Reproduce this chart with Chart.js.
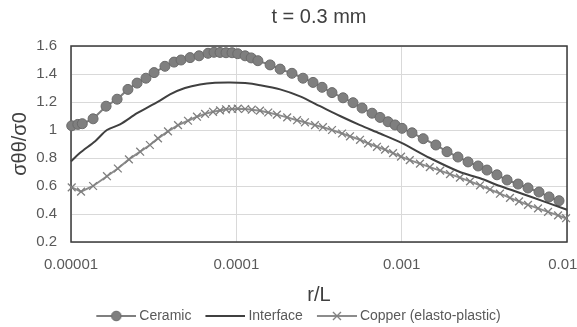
<!DOCTYPE html>
<html>
<head>
<meta charset="utf-8">
<script src="https://cdn.jsdelivr.net/npm/chart.js@4.4.0/dist/chart.umd.min.js"></script>
<style>
html, body { margin: 0; padding: 0; background: #fff; }
</style>
</head>
<body>
<canvas id="myChart" width="577" height="327"></canvas>
<script>
// r/L values and normalised stress for each series
var ceramicR = [1.01e-5, 1.10e-5, 1.17e-5, 1.36e-5, 1.63e-5, 1.90e-5, 2.21e-5, 2.51e-5, 2.84e-5, 3.18e-5,
    3.70e-5, 4.20e-5, 4.63e-5, 5.25e-5, 5.95e-5, 6.74e-5, 7.33e-5, 7.97e-5, 8.66e-5, 9.42e-5,
    1.02e-4, 1.13e-4, 1.23e-4, 1.35e-4, 1.60e-4, 1.84e-4, 2.17e-4, 2.53e-4, 2.91e-4, 3.30e-4,
    3.79e-4, 4.42e-4, 5.08e-4, 5.76e-4, 6.62e-4, 7.40e-4, 8.27e-4, 9.12e-4, 1.005e-3, 1.155e-3,
    1.35e-3, 1.61e-3, 1.88e-3, 2.19e-3, 2.52e-3, 2.90e-3, 3.28e-3, 3.77e-3, 4.34e-3, 5.06e-3,
    5.81e-3, 6.77e-3, 7.79e-3, 8.95e-3];
var ceramic = [1.03, 1.04, 1.045, 1.08, 1.17, 1.22, 1.29, 1.335, 1.37, 1.41,
    1.455, 1.485, 1.50, 1.517, 1.53, 1.548, 1.555, 1.554, 1.552, 1.552,
    1.545, 1.53, 1.515, 1.495, 1.465, 1.435, 1.405, 1.37, 1.34, 1.305,
    1.267, 1.23, 1.195, 1.157, 1.12, 1.09, 1.059, 1.036, 1.012, 0.98,
    0.938, 0.893, 0.845, 0.807, 0.772, 0.743, 0.714, 0.68, 0.643, 0.614,
    0.586, 0.557, 0.522, 0.495];

var interfaceR = [1e-5, 1.13e-5, 1.40e-5, 1.65e-5, 1.98e-5, 2.51e-5, 3.00e-5, 3.45e-5, 3.97e-5, 4.89e-5,
    6.03e-5, 7.43e-5, 9.16e-5, 1.13e-4, 1.39e-4, 1.84e-4, 2.43e-4, 3.21e-4, 4.24e-4, 5.60e-4,
    7.40e-4, 9.91e-4, 1.48e-3, 2.25e-3, 2.98e-3, 3.93e-3, 5.98e-3, 1e-2];
var interfaceS = [0.775, 0.835, 0.92, 1.0, 1.04, 1.12, 1.17, 1.21, 1.255, 1.30,
    1.325, 1.337, 1.34, 1.335, 1.32, 1.29, 1.24, 1.17, 1.10, 1.035,
    0.975, 0.91, 0.80, 0.70, 0.655, 0.60, 0.525, 0.43];

var copperR = [1.01e-5, 1.15e-5, 1.36e-5, 1.65e-5, 1.92e-5, 2.24e-5, 2.62e-5, 3.00e-5, 3.36e-5, 3.86e-5,
    4.44e-5, 5.10e-5, 5.78e-5, 6.47e-5, 7.23e-5, 7.97e-5, 8.66e-5, 9.42e-5, 1.02e-4, 1.13e-4,
    1.24e-4, 1.39e-4, 1.56e-4, 1.76e-4, 2.03e-4, 2.33e-4, 2.60e-4, 2.99e-4, 3.34e-4, 3.79e-4,
    4.36e-4, 4.87e-4, 5.60e-4, 6.26e-4, 7.09e-4, 7.93e-4, 8.87e-4, 9.91e-4, 1.12e-3, 1.29e-3,
    1.48e-3, 1.71e-3, 1.96e-3, 2.25e-3, 2.59e-3, 2.98e-3, 3.42e-3, 3.93e-3, 4.52e-3, 5.13e-3,
    5.81e-3, 6.68e-3, 7.68e-3, 8.83e-3, 9.87e-3];
var copper = [0.59, 0.56, 0.60, 0.67, 0.725, 0.79, 0.845, 0.893, 0.94, 0.99,
    1.035, 1.066, 1.095, 1.115, 1.13, 1.14, 1.148, 1.15, 1.152, 1.15,
    1.145, 1.138, 1.125, 1.11, 1.09, 1.07, 1.055, 1.035, 1.02, 1.0,
    0.975, 0.955, 0.93, 0.905, 0.88, 0.86, 0.835, 0.81, 0.785, 0.76,
    0.735, 0.71, 0.685, 0.66, 0.633, 0.605, 0.575, 0.545, 0.515, 0.49,
    0.465, 0.44, 0.415, 0.39, 0.37];

var xTicks = [1e-5, 1e-4, 1e-3, 1e-2];
var xTickLabels = ["0.00001", "0.0001", "0.001", "0.01"];
var seriesNames = ["Ceramic", "Interface", "Copper (elasto-plastic)"];

function pts(xs, ys) {
    return xs.map(function (x, i) { return { x: x, y: ys[i] }; });
}

// line+marker pictures for the legend (blank strip on the left gives the gap between items)
function legendIcon(color, marker) {
    var c = document.createElement('canvas');
    c.width = 54; c.height = 14;
    var g = c.getContext('2d');
    g.strokeStyle = color; g.lineWidth = 2;
    g.beginPath(); g.moveTo(14, 7); g.lineTo(54, 7); g.stroke();
    if (marker == 'circle') {
        g.fillStyle = '#7f7f7f'; g.strokeStyle = '#6b6b6b'; g.lineWidth = 1;
        g.beginPath(); g.arc(34, 7, 4.8, 0, Math.PI * 2); g.fill(); g.stroke();
    } else if (marker == 'cross') {
        g.strokeStyle = '#7f7f7f'; g.lineWidth = 1.3;
        g.beginPath(); g.moveTo(30, 3); g.lineTo(38, 11); g.moveTo(38, 3); g.lineTo(30, 11); g.stroke();
    }
    return c;
}
var icons = [legendIcon('#7f7f7f', 'circle'), legendIcon('#404040', null), legendIcon('#8c8c8c', 'cross')];

var frame = {
    id: 'frame',
    afterLayout: function (chart) {
        // legend sits a bit right of the canvas centre in the original
        chart.legend.left += 10;
        chart.legend.right += 10;
    },
    beforeDatasetsDraw: function (chart) {
        var a = chart.chartArea, ctx = chart.ctx;
        ctx.save();
        ctx.strokeStyle = '#3a3a3a';
        ctx.lineWidth = 1.5;
        ctx.strokeRect(a.left, a.top, a.right - a.left, a.bottom - a.top);
        ctx.restore();
    }
};

var canvas = document.getElementById('myChart').getContext("2d");
window.chart = new Chart(canvas, {
    type: "scatter",
    data: {
        datasets: [{
            label: seriesNames[0],
            data: pts(ceramicR, ceramic),
            showLine: true,
            borderColor: "#7f7f7f",
            borderWidth: 2,
            pointStyle: 'circle',
            pointRadius: 5,
            pointBackgroundColor: "#7f7f7f",
            pointBorderColor: "#6b6b6b",
            pointBorderWidth: 1,
            clip: false,
            order: 3
        }, {
            label: seriesNames[1],
            data: pts(interfaceR, interfaceS),
            showLine: true,
            borderColor: "#404040",
            borderWidth: 2,
            pointRadius: 0,
            tension: 0.3,
            clip: false,
            order: 2
        }, {
            label: seriesNames[2],
            data: pts(copperR, copper),
            showLine: true,
            borderColor: "#8c8c8c",
            borderWidth: 2,
            pointStyle: 'crossRot',
            pointRadius: 5.5,
            pointBorderColor: "#7f7f7f",
            pointBorderWidth: 1.3,
            clip: false,
            order: 1
        }]
    },
    options: {
        responsive: false,
        animation: false,
        layout: { padding: { left: 0, right: 10, top: 0, bottom: -6 } },
        plugins: {
            title: {
                display: true,
                fullSize: false,
                text: "t = 0.3 mm",
                color: "#404040",
                font: { family: "Liberation Sans", size: 20, weight: 'normal' },
                padding: { top: 5, bottom: 17 }
            },
            tooltip: { enabled: false },
            legend: {
                position: 'bottom',
                labels: {
                    usePointStyle: true,
                    pointStyleWidth: 46,
                    boxHeight: 14,
                    padding: 4,
                    color: "#595959",
                    font: { family: "Liberation Sans", size: 14 },
                    generateLabels: function (chart) {
                        return seriesNames.map(function (n, i) {
                            return { text: n, pointStyle: icons[i], datasetIndex: i, lineWidth: 0, fontColor: "#595959" };
                        });
                    }
                }
            }
        },
        scales: {
            x: {
                type: 'logarithmic',
                min: 1e-5,
                max: 1e-2,
                afterBuildTicks: function (axis) {
                    axis.ticks = xTicks.map(function (v) { return { value: v }; });
                },
                afterFit: function (axis) {
                    axis.height = 63;
                    axis.paddingRight = 0;
                },
                ticks: {
                    color: "#595959",
                    padding: 14,
                    autoSkip: false,
                    maxRotation: 0,
                    font: { family: "Liberation Sans", size: 15 },
                    callback: function (v) {
                        var i = xTicks.indexOf(v);
                        // last label is nudged left so it stays inside the canvas
                        return i == xTicks.length - 1 ? xTickLabels[i] + "\u2007" : xTickLabels[i];
                    }
                },
                grid: { color: "#d9d9d9", drawTicks: false },
                border: { display: false },
                title: {
                    display: true,
                    text: "r/L",
                    color: "#404040",
                    font: { family: "Liberation Sans", size: 20 },
                    padding: { top: 0, bottom: -2 }
                }
            },
            y: {
                min: 0.2,
                max: 1.6,
                afterFit: function (axis) {
                    axis.width = 71;
                },
                ticks: {
                    stepSize: 0.2,
                    color: "#595959",
                    padding: 14,
                    font: { family: "Liberation Sans", size: 15 },
                    callback: function (v) { return String(+v.toFixed(1)); }
                },
                grid: { color: "#d9d9d9", drawTicks: false },
                border: { display: false },
                title: {
                    display: true,
                    text: "σθθ/σ0",
                    color: "#404040",
                    font: { family: "Liberation Sans", size: 20 },
                    padding: { top: 8, bottom: 0 }
                }
            }
        }
    },
    plugins: [frame]
});
</script>
</body>
</html>
